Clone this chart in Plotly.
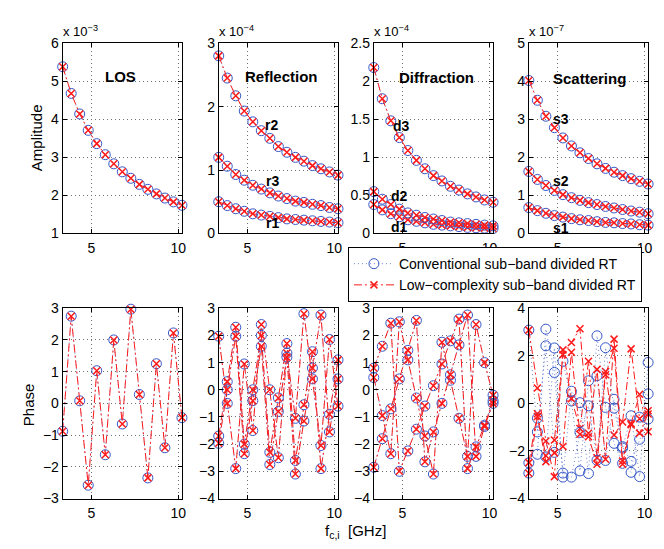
import plotly.graph_objects as go
from plotly.subplots import make_subplots

# sub-band centre frequencies [GHz]
fc = [3.35, 3.84, 4.33, 4.82, 5.31, 5.80, 6.29, 6.78, 7.27, 7.76, 8.25, 8.74, 9.23, 9.72, 10.21]

# amplitudes (mantissa, scale shown above each panel)
los_amp = [5.38, 4.68, 4.14, 3.71, 3.36, 3.07, 2.83, 2.62, 2.45, 2.29, 2.16, 2.04, 1.93, 1.83, 1.74]  # x1e-3
r1_amp = [0.50, 0.44, 0.39, 0.35, 0.31, 0.29, 0.27, 0.25, 0.23, 0.22, 0.21, 0.20, 0.19, 0.18, 0.17]  # x1e-4
r2_amp = [2.80, 2.45, 2.17, 1.93, 1.76, 1.62, 1.50, 1.37, 1.28, 1.20, 1.14, 1.07, 1.02, 0.97, 0.92]
r3_amp = [1.20, 1.06, 0.93, 0.84, 0.76, 0.70, 0.64, 0.59, 0.55, 0.51, 0.49, 0.46, 0.44, 0.41, 0.39]
d1_amp = [0.38, 0.31, 0.26, 0.22, 0.18, 0.16, 0.14, 0.12, 0.11, 0.10, 0.09, 0.08, 0.075, 0.07, 0.065]  # x1e-4
d2_amp = [0.55, 0.45, 0.38, 0.32, 0.27, 0.24, 0.21, 0.19, 0.17, 0.15, 0.14, 0.13, 0.12, 0.11, 0.10]
d3_amp = [2.18, 1.77, 1.48, 1.26, 1.09, 0.96, 0.85, 0.76, 0.69, 0.62, 0.57, 0.52, 0.48, 0.44, 0.41]
s1_amp = [0.68, 0.60, 0.53, 0.47, 0.43, 0.39, 0.36, 0.34, 0.31, 0.29, 0.28, 0.26, 0.25, 0.23, 0.22]  # x1e-7
s2_amp = [1.63, 1.42, 1.26, 1.13, 1.02, 0.94, 0.87, 0.81, 0.76, 0.71, 0.67, 0.63, 0.59, 0.56, 0.52]
s3_amp = [4.02, 3.50, 3.08, 2.78, 2.51, 2.30, 2.12, 1.97, 1.83, 1.71, 1.61, 1.52, 1.44, 1.37, 1.30]

# phases [rad]
los_ph = [-0.88, 2.75, 0.08, -2.58, 1.03, -1.62, 2.00, -0.65, 2.97, 0.28, -2.35, 1.25, -1.40, 2.22, -0.45]
ra_ph = [1.97, -0.50, -2.90, 0.95, -1.50, 2.40, 0.00, -2.50, 1.35, -1.05, 2.80, 0.40, -2.05, 1.85, -0.60]
rb_ph = [-1.70, 0.30, 2.30, -2.00, 0.00, 2.00, -2.30, -0.30, 1.70, -2.60, -0.55, 1.40, -2.90, -0.90, 1.10]
rc_ph = [-1.97, 0.00, 1.97, -2.35, -0.40, 1.60, -2.75, -0.80, 1.20, -3.10, -1.15, 0.80, 2.75, -1.55, 0.40]
da_ph = [0.80, 1.60, 2.45, -3.00, -2.25, -1.45, -0.60, 0.15, 0.95, 1.80, 2.60, -2.90, -2.10, -1.30, -0.40]
db_ph = [0.45, -0.95, -2.35, 2.50, 1.10, -0.30, -1.70, -3.10, 1.75, 0.35, -1.05, -2.45, 2.40, 1.00, -0.20]
dc_ph = [-2.85, -1.80, -0.70, 0.40, 1.45, 2.55, -2.65, -1.55, -0.50, 0.55, 1.65, 2.75, -2.45, -1.35, -0.50]
# scattering phases differ between the two methods
sa_conv = [3.08, -1.20, 2.42, -2.06, 1.77, 0.10, -2.84, 0.95, 1.16, -2.40, 0.17, -1.88, -0.52, -3.08, 1.72]
sb_conv = [-2.50, -0.62, -2.25, 2.33, -3.10, 0.51, 0.03, -2.95, 2.84, -0.17, -1.68, -2.52, -2.90, -0.58, 0.40]
sc_conv = [-2.93, -2.14, 3.12, 1.30, -2.93, -3.10, -1.22, -0.10, -2.39, 2.34, -0.20, -1.82, -2.44, -1.51, -0.66]
sa_low = [3.08, 0.65, -1.58, -3.08, 2.25, 0.20, -1.06, 1.77, -2.29, 1.34, -1.33, -0.78, 2.29, -0.65, -0.31]
sb_low = [-2.49, -0.44, -2.20, -1.54, 2.05, 2.56, 3.14, -1.26, 1.43, -2.35, 2.70, -2.42, -0.85, 0.38, -1.19]
sc_low = [-2.94, -0.55, -2.45, -2.08, -1.81, 2.15, -1.30, -1.40, -2.56, 1.20, 2.32, -2.56, -0.90, -1.25, -0.45]

BLUE = "#3658c8"
RED = "#ff1a1a"
FONT = "Liberation Sans, Arial, Helvetica, sans-serif"
W, H = 664, 549

fig = make_subplots(rows=2, cols=4)


def add_pair(row, col, y_conv, y_low, legend=False):
    fig.add_trace(go.Scatter(
        x=fc, y=y_conv, mode="lines+markers", cliponaxis=False,
        line=dict(color="rgba(60,90,200,0.75)", width=1, dash="1px,3px"),
        marker=dict(symbol="circle-open", size=10, color=BLUE, line=dict(width=1)),
        name="Conventional sub\u2212band divided RT", showlegend=legend,
    ), row=row, col=col)
    fig.add_trace(go.Scatter(
        x=fc, y=y_low, mode="lines+markers", cliponaxis=False,
        line=dict(color=RED, width=1, dash="8px,3px,2px,3px"),
        marker=dict(symbol="x-thin-open", size=7, color=RED, line=dict(width=1.5, color=RED)),
        name="Low\u2212complexity sub\u2212band divided RT", showlegend=legend,
    ), row=row, col=col)


add_pair(1, 1, los_amp, los_amp, legend=True)
for s in (r1_amp, r2_amp, r3_amp):
    add_pair(1, 2, s, s)
for s in (d1_amp, d2_amp, d3_amp):
    add_pair(1, 3, s, s)
for s in (s1_amp, s2_amp, s3_amp):
    add_pair(1, 4, s, s)

add_pair(2, 1, los_ph, los_ph)
for s in (ra_ph, rb_ph, rc_ph):
    add_pair(2, 2, s, s)
for s in (da_ph, db_ph, dc_ph):
    add_pair(2, 3, s, s)
for c, l in ((sa_conv, sa_low), (sb_conv, sb_low), (sc_conv, sc_low)):
    add_pair(2, 4, c, l)

# panel placement in pixels
lefts = [55, 212, 368, 524]
pw = 120
rows_px = [(28, 224), (301, 497)]
yranges = [[(1, 6), (0, 3), (0, 2.5), (0, 5)],
           [(-3, 3), (-4, 3), (-4, 3), (-4, 4)]]
ydticks = [[1, 1, 0.5, 1], [1, 1, 1, 2]]

axis_style = dict(
    showline=True, mirror="ticks", linecolor="black", linewidth=1,
    ticks="inside", ticklen=4, tickcolor="black",
    showgrid=True, gridcolor="#707070", griddash="1px,3px", gridwidth=1,
    zeroline=False, tickfont=dict(family=FONT, size=14, color="black"),
)

for r in range(2):
    top, bot = rows_px[r]
    for c in range(4):
        i = r * 4 + c + 1
        xa = "xaxis" if i == 1 else f"xaxis{i}"
        ya = "yaxis" if i == 1 else f"yaxis{i}"
        fig.layout[xa].update(
            domain=[lefts[c] / W, (lefts[c] + pw) / W],
            range=[3.35, 10.21], tickvals=[5, 10], ticklabelstandoff=2, **axis_style)
        lo, hi = yranges[r][c]
        fig.layout[ya].update(
            domain=[1 - bot / H, 1 - top / H],
            range=[lo, hi], dtick=ydticks[r][c], tick0=0, **axis_style)

# exponent labels
for c, e in enumerate(["\u22123", "\u22124", "\u22124", "\u22127"]):
    fig.add_annotation(xref="paper", yref="paper", x=(lefts[c] - 2) / W, y=1 - 15 / H,
                       xanchor="left", yanchor="middle", showarrow=False,
                       text=f"x 10<sup>{e}</sup>", font=dict(family=FONT, size=13, color="black"))

# panel titles and path labels
bold = dict(family=FONT, size=15, color="black")
small = dict(family=FONT, size=14, color="black")
labels = [
    ("x", "y", 6.7, 5.13, "<b>LOS</b>", bold),
    ("x2", "y2", 6.95, 2.47, "<b>Reflection</b>", bold),
    ("x2", "y2", 6.4, 1.71, "<b>r2</b>", small),
    ("x2", "y2", 6.45, 0.83, "<b>r3</b>", small),
    ("x2", "y2", 6.43, 0.16, "<b>r1</b>", small),
    ("x3", "y3", 6.95, 2.05, "<b>Diffraction</b>", bold),
    ("x3", "y3", 4.94, 1.41, "<b>d3</b>", small),
    ("x3", "y3", 4.85, 0.49, "<b>d2</b>", small),
    ("x3", "y3", 4.85, 0.08, "<b>d1</b>", small),
    ("x4", "y4", 6.82, 4.06, "<b>Scattering</b>", bold),
    ("x4", "y4", 5.22, 3.01, "<b>s3</b>", small),
    ("x4", "y4", 5.22, 1.38, "<b>s2</b>", small),
    ("x4", "y4", 5.22, 0.15, "<b>s1</b>", small),
]
for xr, yr, x, y, t, f in labels:
    fig.add_annotation(xref=xr, yref=yr, x=x, y=y, text=t, showarrow=False, font=f)

# axis labels
lab = dict(family=FONT, size=15, color="black")
fig.add_annotation(xref="paper", yref="paper", x=29 / W, y=1 - 125 / H, text="Amplitude",
                   textangle=-90, showarrow=False, font=lab, xanchor="center", yanchor="middle")
fig.add_annotation(xref="paper", yref="paper", x=20 / W, y=1 - 400 / H, text="Phase",
                   textangle=-90, showarrow=False, font=lab, xanchor="center", yanchor="middle")
fig.add_annotation(xref="paper", yref="paper", x=350 / W, y=1 - 531 / H,
                   text="f<sub>c,i</sub>  [GHz]", showarrow=False, font=lab,
                   xanchor="center", yanchor="middle")

fig.update_layout(
    width=W, height=H, margin=dict(l=0, r=0, t=0, b=0),
    paper_bgcolor="white", plot_bgcolor="white",
    font=dict(family=FONT, color="black"),
    legend=dict(x=342 / W, y=1 - 238 / H, xanchor="left", yanchor="top",
                bgcolor="white", bordercolor="black", borderwidth=1,
                font=dict(family=FONT, size=14, color="black"),
                tracegroupgap=0, itemwidth=40),
)

fig.write_html("out.html")
